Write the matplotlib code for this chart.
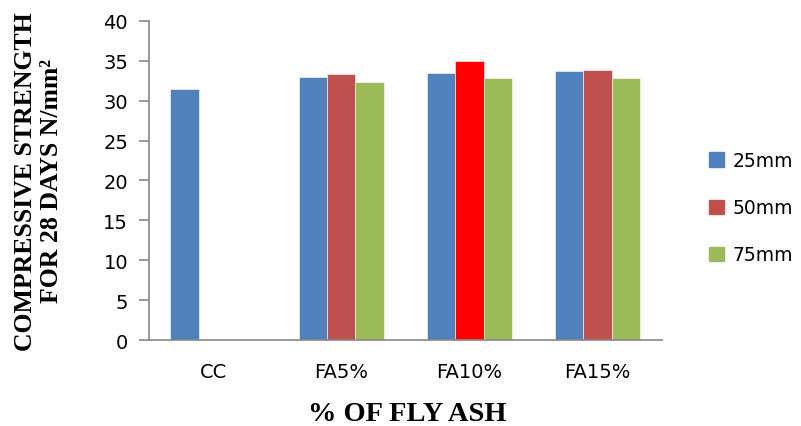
import matplotlib
matplotlib.use("Agg")
import matplotlib.pyplot as plt
import numpy as np

# compressive strength at 28 days (N/mm2) per cube size
mixes = ["CC", "FA5%", "FA10%", "FA15%"]
sizes = ["25mm", "50mm", "75mm"]
s25 = [31.5, 33.0, 33.5, 33.7]
s50 = [0, 33.4, 35.0, 33.9]
s75 = [0, 32.4, 32.9, 32.8]

colors = ["#4F81BD", "#C0504D", "#9BBB59"]

fig = plt.figure(figsize=(8.01, 4.27), dpi=100)
ax = fig.add_axes([0.186, 0.2014, 0.64, 0.7471])

x = np.arange(len(mixes))
w = 0.222
bars = []
for i, (vals, c) in enumerate(zip([s25, s50, s75], colors)):
    b = ax.bar(x + (i - 1) * w, vals, w, color=c, edgecolor="white", linewidth=0.4)
    bars.append(b)
# peak value at FA10% is highlighted
bars[1][2].set_color("#FF0000")
bars[1][2].set_edgecolor("white")

ax.set_xlim(-0.5, len(mixes) - 0.5)
ax.set_ylim(0, 40)
ax.set_yticks(range(0, 41, 5))
ax.set_xticks(x)
ax.set_xticklabels(mixes)

for side in ["top", "right"]:
    ax.spines[side].set_visible(False)
for side in ["left", "bottom"]:
    ax.spines[side].set_color("#888888")
    ax.spines[side].set_linewidth(1.2)
ax.tick_params(axis="y", length=7, width=1.2, color="#888888", labelsize=14, pad=8)
ax.tick_params(axis="x", length=0, labelsize=14, pad=16)

ax.set_xlabel("% OF FLY ASH", fontsize=20.5, fontweight="bold",
              family="Liberation Serif")
ax.xaxis.set_label_coords(0.503, -0.19)
ax.set_ylabel("COMPRESSIVE STRENGTH\nFOR 28 DAYS N/mm²", fontsize=18.5,
              fontweight="bold", family="Liberation Serif", linespacing=1.15)
ax.yaxis.set_label_coords(-0.168, 0.5)

handles = [plt.Rectangle((0, 0), 1, 1, color=c) for c in colors]
fig.legend(handles, sizes, loc="center left", bbox_to_anchor=(0.869, 0.511),
           frameon=False, fontsize=13.5, handlelength=0.8, handleheight=0.8,
           handletextpad=0.45, labelspacing=1.5, borderpad=0.2)

fig.savefig("out.png", dpi=100)
